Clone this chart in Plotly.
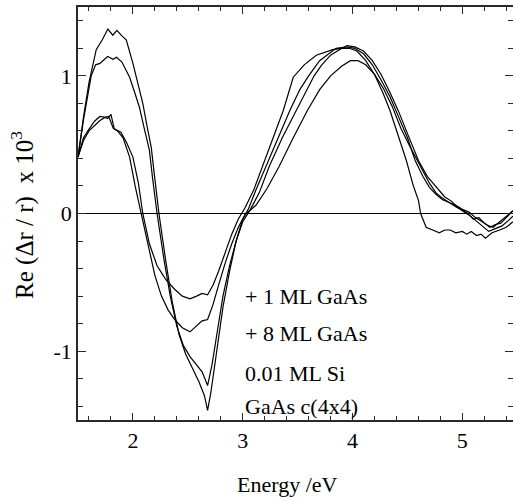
import plotly.graph_objects as go

# Reflectance anisotropy spectra, Re(dr/r) x 10^3 versus photon energy (eV)
e_c4x4 = [1.50, 1.55, 1.60, 1.666, 1.72, 1.772, 1.817, 1.854, 1.90, 1.94, 2.00, 2.05, 2.09, 2.13, 2.167, 2.20, 2.237,
          2.30, 2.36, 2.42, 2.48, 2.54, 2.60, 2.65, 2.68, 2.71, 2.76, 2.82, 2.88, 2.94, 3.00, 3.05, 3.12, 3.21, 3.32,
          3.43, 3.52, 3.60, 3.70, 3.78, 3.85, 3.95, 4.02, 4.10, 4.18, 4.26, 4.34, 4.42, 4.50, 4.57, 4.64, 4.70, 4.76,
          4.82, 4.88, 4.94, 5.00, 5.05, 5.10, 5.15, 5.20, 5.25, 5.30, 5.35, 5.40, 5.46]
v_c4x4 = [0.41, 0.70, 0.95, 1.19, 1.26, 1.34, 1.295, 1.33, 1.29, 1.26, 1.09, 0.93, 0.80, 0.63, 0.48, 0.25, 0.0,
          -0.35, -0.65, -0.88, -1.02, -1.12, -1.22, -1.32, -1.43, -1.30, -1.00, -0.68, -0.42, -0.20, -0.04, 0.03, 0.17, 0.34, 0.55,
          0.75, 0.90, 1.00, 1.11, 1.16, 1.20, 1.21, 1.20, 1.16, 1.08, 0.97, 0.85, 0.70, 0.55, 0.385, 0.27, 0.19, 0.14,
          0.10, 0.08, 0.05, 0.02, 0.00, -0.04, -0.03, -0.07, -0.10, -0.08, -0.07, -0.03, 0.02]

e_si = [1.50, 1.55, 1.62, 1.66, 1.70, 1.77, 1.82, 1.85, 1.90, 1.97, 2.02, 2.06, 2.10, 2.15, 2.18, 2.22,
        2.28, 2.34, 2.40, 2.46, 2.52, 2.58, 2.63, 2.68, 2.72, 2.77, 2.82, 2.88, 2.94, 3.00, 3.07, 3.15, 3.24, 3.36,
        3.49, 3.57, 3.65, 3.72, 3.80, 3.88, 3.95, 4.02, 4.10, 4.18, 4.26, 4.34, 4.42, 4.50, 4.60, 4.68, 4.78,
        4.84, 4.90, 4.95, 5.00, 5.06, 5.12, 5.18, 5.24, 5.30, 5.36, 5.42, 5.46]
v_si = [0.41, 0.68, 1.00, 1.08, 1.09, 1.14, 1.12, 1.135, 1.10, 0.99, 0.87, 0.77, 0.63, 0.46, 0.25, 0.0,
        -0.32, -0.60, -0.82, -0.96, -1.04, -1.10, -1.15, -1.25, -1.10, -0.85, -0.60, -0.38, -0.20, -0.06, 0.03, 0.15, 0.34, 0.55,
        0.75, 0.88, 1.00, 1.08, 1.15, 1.19, 1.22, 1.21, 1.18, 1.11, 1.01, 0.88, 0.74, 0.58, 0.385, 0.27, 0.18,
        0.12, 0.09, 0.05, 0.02, -0.01, -0.05, -0.09, -0.13, -0.11, -0.09, -0.05, -0.02]

e_1ml = [1.50, 1.55, 1.59, 1.65, 1.70, 1.74, 1.77, 1.80, 1.83, 1.89, 1.94, 2.00, 2.05, 2.09, 2.15, 2.22, 2.30,
         2.38, 2.45, 2.52, 2.58, 2.63, 2.68, 2.73, 2.78, 2.84, 2.90, 2.96, 3.02, 3.10, 3.18, 3.28, 3.37, 3.46,
         3.56, 3.67, 3.75, 3.82, 3.90, 3.97, 4.04, 4.12, 4.20, 4.28, 4.34, 4.42, 4.49, 4.55, 4.60, 4.62, 4.67,
         4.73, 4.79, 4.84, 4.89, 4.94, 5.00, 5.04, 5.08, 5.13, 5.17, 5.21, 5.27, 5.34, 5.40, 5.46]
v_1ml = [0.41, 0.55, 0.60, 0.67, 0.705, 0.70, 0.69, 0.72, 0.615, 0.59, 0.52, 0.41, 0.22, 0.0, -0.22, -0.38, -0.48,
         -0.55, -0.60, -0.62, -0.60, -0.58, -0.59, -0.52, -0.42, -0.28, -0.15, -0.04, 0.04, 0.17, 0.34, 0.55, 0.75, 0.99,
         1.08, 1.15, 1.17, 1.19, 1.20, 1.20, 1.18, 1.11, 1.01, 0.87, 0.75, 0.56, 0.385, 0.21, 0.095, 0.0, -0.10,
         -0.12, -0.14, -0.12, -0.12, -0.14, -0.13, -0.15, -0.13, -0.16, -0.15, -0.18, -0.14, -0.12, -0.10, -0.06]

e_8ml = [1.50, 1.55, 1.60, 1.65, 1.70, 1.75, 1.78, 1.82, 1.86, 1.91, 1.97, 2.02, 2.076, 2.14, 2.20, 2.26, 2.32,
         2.38, 2.45, 2.52, 2.58, 2.63, 2.68, 2.73, 2.78, 2.84, 2.90, 2.96, 3.02, 3.12, 3.22, 3.33, 3.46, 3.59,
         3.70, 3.80, 3.90, 3.98, 4.05, 4.12, 4.20, 4.28, 4.36, 4.44, 4.52, 4.63, 4.70, 4.76, 4.82, 4.88, 4.94,
         5.00, 5.06, 5.12, 5.18, 5.24, 5.28, 5.34, 5.40, 5.46]
v_8ml = [0.41, 0.53, 0.60, 0.64, 0.675, 0.70, 0.705, 0.62, 0.60, 0.55, 0.41, 0.20, 0.0, -0.25, -0.45, -0.60, -0.70,
         -0.77, -0.83, -0.86, -0.82, -0.78, -0.77, -0.66, -0.52, -0.36, -0.22, -0.10, -0.01, 0.06, 0.18, 0.34, 0.55, 0.75,
         0.90, 1.00, 1.07, 1.11, 1.11, 1.08, 1.01, 0.91, 0.78, 0.62, 0.49, 0.32, 0.22, 0.15, 0.11, 0.08, 0.06,
         0.03, 0.01, -0.03, -0.06, -0.09, -0.10, -0.06, -0.02, 0.02]

series = [
    ("GaAs c(4x4)", e_c4x4, v_c4x4),
    ("0.01 ML Si", e_si, v_si),
    ("+ 1 ML GaAs", e_1ml, v_1ml),
    ("+ 8 ML GaAs", e_8ml, v_8ml),
]

# Curve labels and the level they sit at (data units)
label_texts = ["+ 1 ML GaAs", "+ 8 ML GaAs", "0.01 ML Si", "GaAs c(4x4)"]
label_levels = [-0.60, -0.875, -1.165, -1.40]
label_x = 3.0

x_ticks = [2, 3, 4, 5]
y_ticks = [-1, 0, 1]
y_tick_text = ["-1", "0", "1"]

x_range = [1.5, 5.461]
y_range = [-1.5, 1.5]

FONT = "Liberation Serif, Times New Roman, serif"
AXIS_COLOR = "#2a2a2a"

fig = go.Figure()
for name, e, v in series:
    fig.add_trace(go.Scatter(x=e, y=v, mode="lines", name=name,
                             line=dict(color="black", width=1.2), showlegend=False))

# invisible helper trace so the right-hand tick axis is rendered
fig.add_trace(go.Scatter(x=[x_range[0]], y=[0], yaxis="y2", mode="markers",
                         marker=dict(opacity=0), showlegend=False, hoverinfo="skip"))

for txt, lv in zip(label_texts, label_levels):
    fig.add_annotation(x=label_x, y=lv, xref="x", yref="y", text=txt, showarrow=False,
                       xanchor="left", yanchor="middle", font=dict(family=FONT, size=22, color="black"))

fig.add_annotation(x=0.482, y=-0.155, xref="paper", yref="paper", text="Energy /eV", showarrow=False,
                   xanchor="center", yanchor="middle", font=dict(family=FONT, size=22, color="black"))
fig.add_annotation(x=-0.126, y=0.497, xref="paper", yref="paper",
                   text="Re (\u0394r / r)  x 10<sup>3</sup>", textangle=-90, showarrow=False,
                   xanchor="center", yanchor="middle", font=dict(family=FONT, size=25, color="black"))

fig.update_layout(
    width=513, height=501,
    margin=dict(l=78, r=0, t=7, b=81),
    paper_bgcolor="white", plot_bgcolor="white",
    font=dict(family=FONT, size=22, color="black"),
    xaxis=dict(range=x_range, tickvals=x_ticks, ticks="inside", ticklen=7, tickwidth=1.2,
               tickcolor=AXIS_COLOR, showline=True, linecolor=AXIS_COLOR, linewidth=1.6, mirror="ticks",
               showgrid=False, zeroline=False, tickfont=dict(family=FONT, size=22),
               minor=dict(dtick=0.2, tick0=0, ticks="inside", ticklen=4, tickwidth=1, tickcolor=AXIS_COLOR,
                          showgrid=False)),
    yaxis=dict(range=y_range, tickvals=y_ticks, ticktext=y_tick_text, ticks="inside", ticklen=8, tickwidth=1.2,
               tickcolor=AXIS_COLOR, showline=True, linecolor=AXIS_COLOR, linewidth=1.6,
               showgrid=False, zeroline=True, zerolinecolor="black", zerolinewidth=1.2,
               tickfont=dict(family=FONT, size=22),
               minor=dict(dtick=0.2, tick0=0, ticks="inside", ticklen=5, tickwidth=1, tickcolor=AXIS_COLOR,
                          showgrid=False)),
    yaxis2=dict(range=y_range, overlaying="y", side="right", showline=False, showticklabels=False,
                tickvals=y_ticks, ticks="inside", ticklen=8, tickwidth=1.2, tickcolor=AXIS_COLOR,
                showgrid=False, zeroline=False,
                minor=dict(dtick=0.2, tick0=0, ticks="inside", ticklen=5, tickwidth=1, tickcolor=AXIS_COLOR,
                           showgrid=False)),
)

fig.write_html("out.html")
